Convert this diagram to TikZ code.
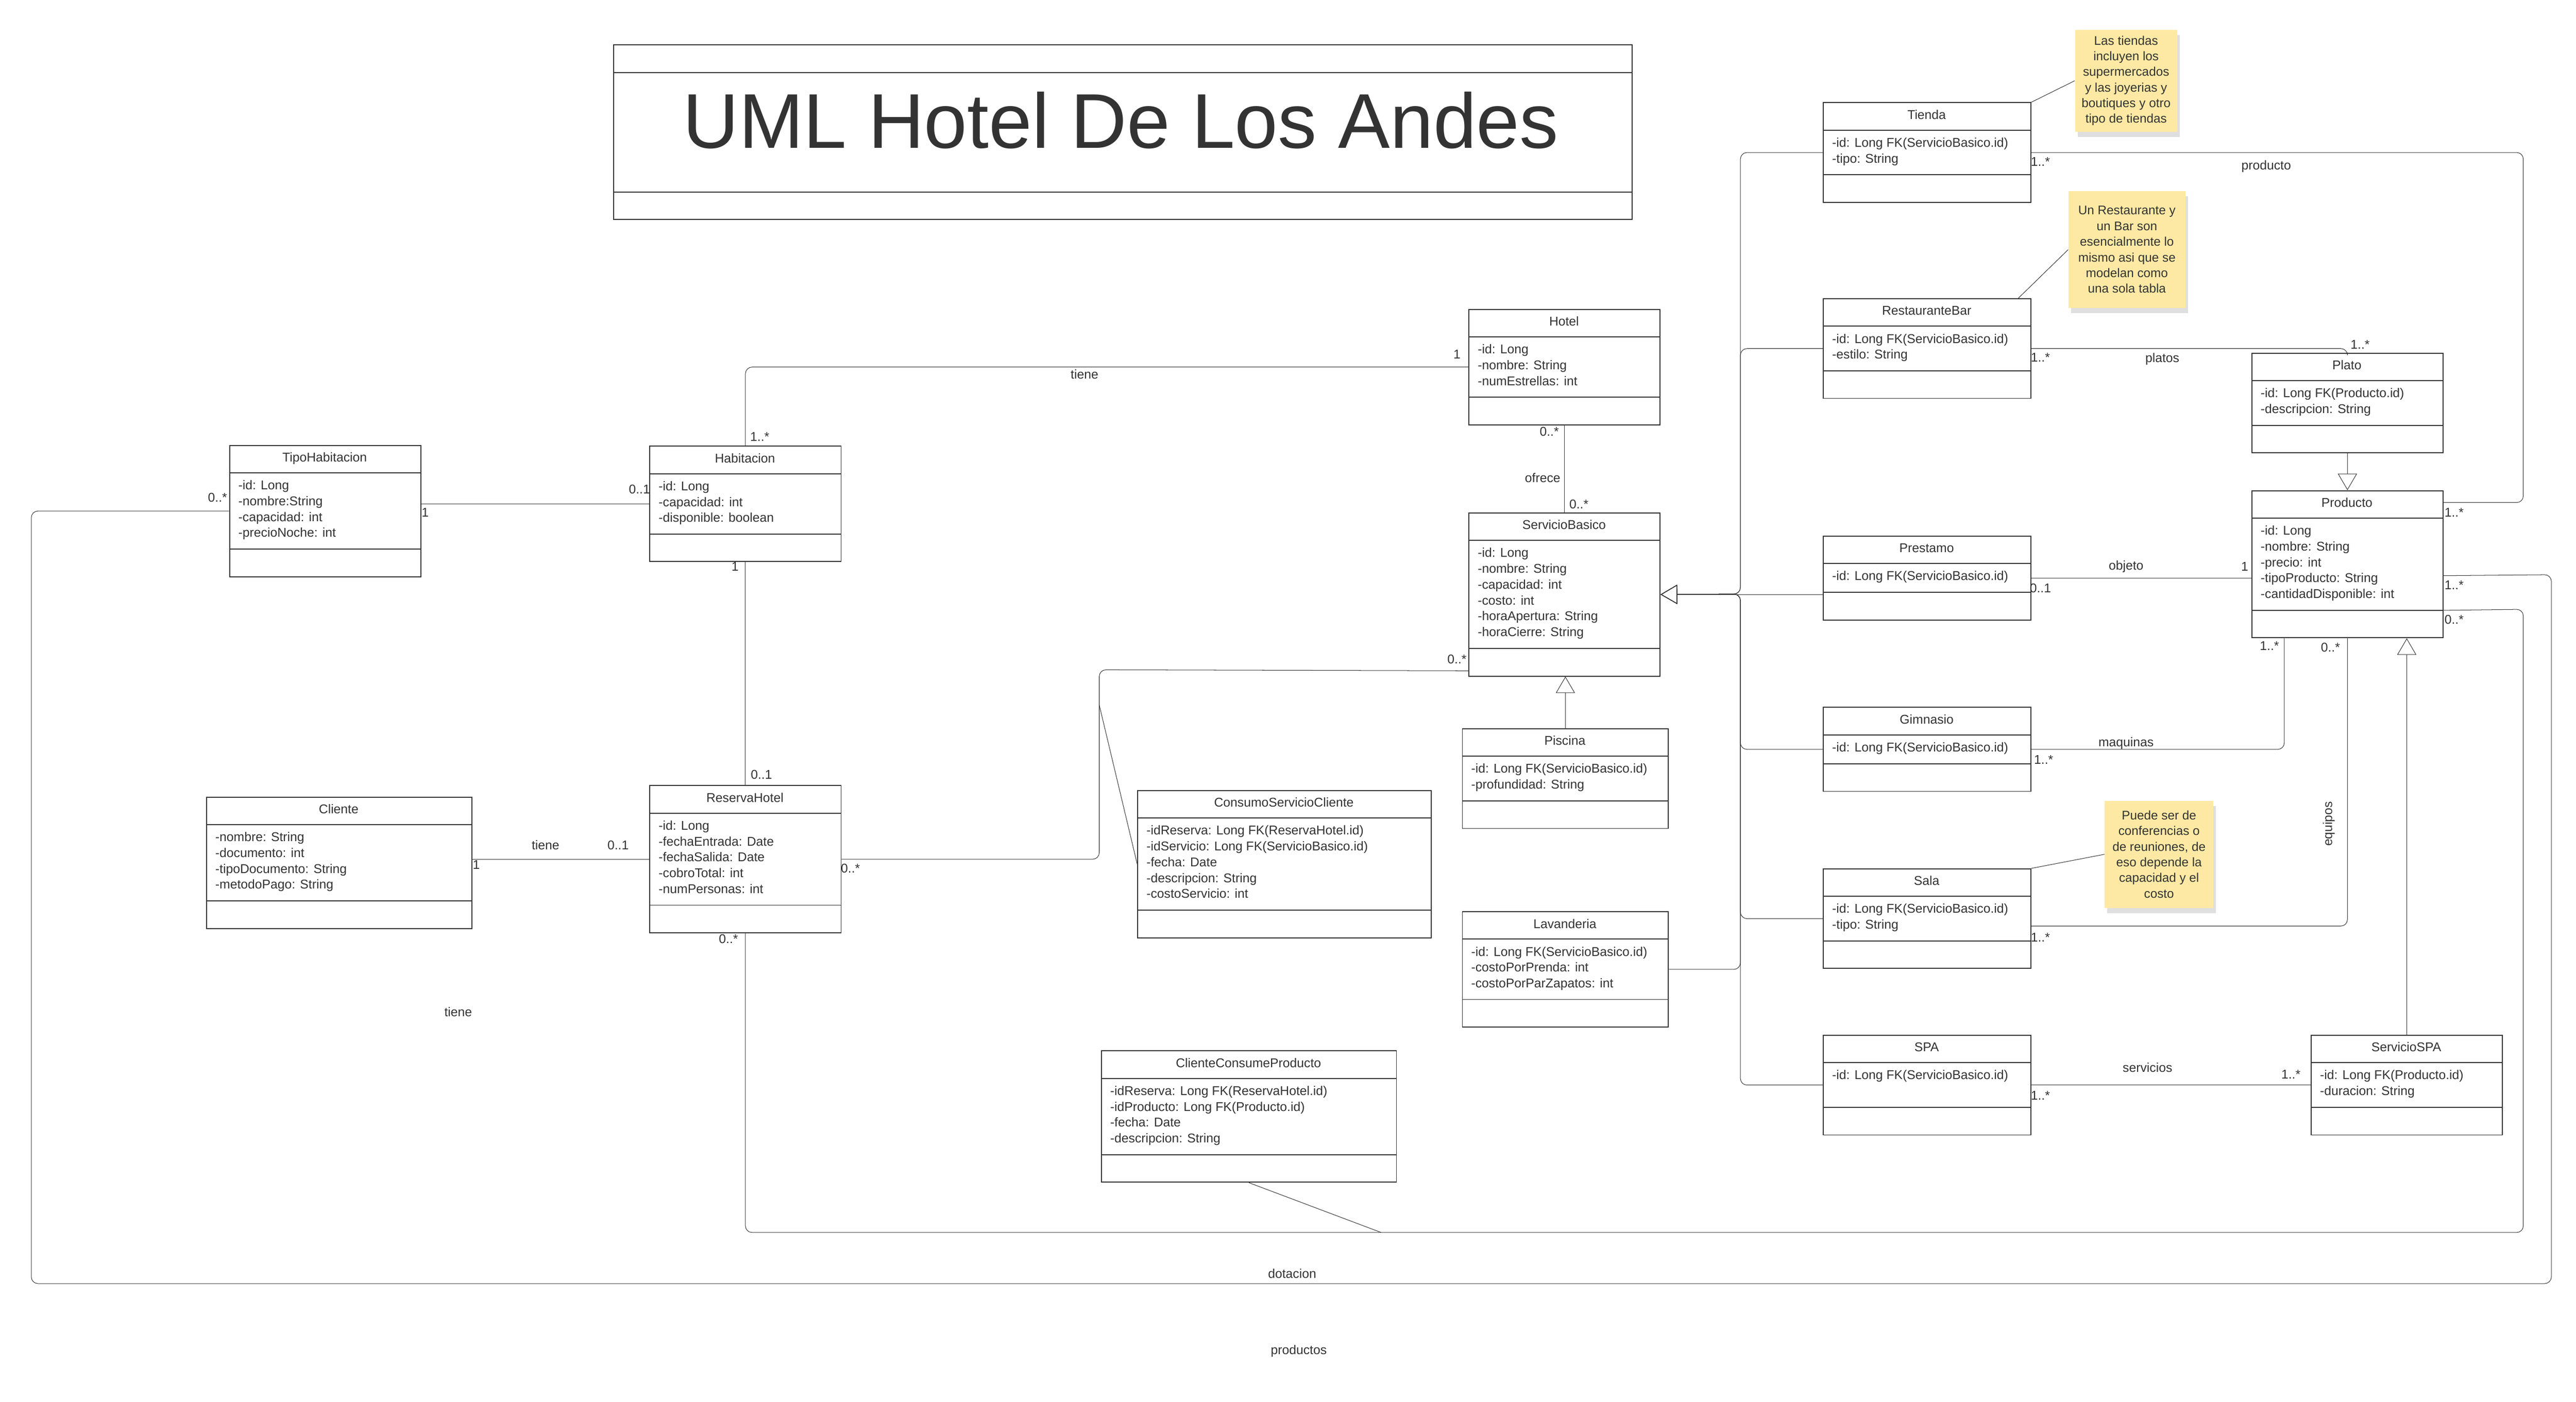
\documentclass[tikz,border=0pt]{standalone}
\usepackage{fontspec}
\setmainfont{Liberation Sans}
\usetikzlibrary{arrows.meta, shadows, calc}
\definecolor{mygray}{RGB}{51,51,51}
\definecolor{mynote}{RGB}{254,233,164}

\tikzset{
    classbox/.style={draw=mygray, line width=0.85pt, fill=white, inner sep=0pt, anchor=north west},
    boxline/.style={draw=mygray, line width=0.85pt},
    classname/.style={font=\fontsize{11}{13.6}\selectfont, text=mygray, anchor=base, inner sep=0pt},
    attr/.style={font=\fontsize{11}{13.6}\selectfont, text=mygray, anchor=base west, inner sep=0pt},
    lbl/.style={font=\fontsize{11}{13.6}\selectfont, text=mygray, inner sep=0pt},
    assoc/.style={draw=mygray, line width=0.45pt, rounded corners=0.2cm},
    gen/.style={assoc, -{Triangle[open, length=0.5cm, width=0.58cm]}},
    note/.style={fill=mynote, text=mygray, align=center, inner sep=0pt,
        font=\fontsize{10.8}{13.5}\selectfont,
        drop shadow={shadow xshift=0.08cm, shadow yshift=-0.16cm, opacity=0.25}},
}

% class box: name, x, y, width, height of attribute part, title, attributes
\newcommand{\umlclass}[7]{
    \node[classbox, minimum width=#4*0.05cm, minimum height=(34+#5)*0.05cm] (#1) at (#2,#3) {};
    \draw[boxline] (#1.north west) ++(0,17) -- ++(#4,0);
    \draw[boxline] (#1.south west) ++(0,-17) -- ++(#4,0);
    \node[classname] (#1-name) at (#2+#4/2,#3+10.3) {#6};
    \foreach \att [count=\k] in {#7}
        \node[attr] (#1-a\k) at (#2+5.5,#3+27.2+9.6*\k-9.6) {\att};
}

\begin{document}
\begin{tikzpicture}[x=0.05cm, y=-0.05cm]
    \useasboundingbox (0,0) rectangle (1563,850.7);

    % Title
    \node[classbox, minimum width=618*0.05cm, minimum height=106*0.05cm] (titleBox) at (372,27) {};
    \draw[boxline] (titleBox.north west) ++(0,17) -- ++(618,0);
    \draw[boxline] (titleBox.south west) ++(0,-17) -- ++(618,0);
    \node[lbl, font=\fontsize{67}{80}\selectfont] (titleText) at (680,73) {UML Hotel De Los Andes};

    % Classes
    \umlclass{TipoHabitacion}{139}{270}{116}{45.7}{TipoHabitacion}{-id: Long, -nombre:String, -capacidad: int, -precioNoche: int}
    \umlclass{Habitacion}{394}{270.5}{116}{36}{Habitacion}{-id: Long, -capacidad: int, -disponible: boolean}
    \umlclass{Cliente}{125}{483.5}{161}{45.7}{Cliente}{-nombre: String, -documento: int, -tipoDocumento: String, -metodoPago: String}
    \umlclass{ReservaHotel}{394}{476.5}{116}{55.3}{ReservaHotel}{-id: Long, -fechaEntrada: Date, -fechaSalida: Date, -cobroTotal: int, -numPersonas: int}
    \umlclass{Hotel}{891}{187.5}{116}{36}{Hotel}{-id: Long, -nombre: String, -numEstrellas: int}
    \umlclass{ServicioBasico}{891}{311}{116}{65}{ServicioBasico}{-id: Long, -nombre: String, -capacidad: int, -costo: int, -horaApertura: String, -horaCierre: String}
    \umlclass{Piscina}{887}{442}{125}{26.5}{Piscina}{-id: Long FK(ServicioBasico.id), -profundidad: String}
    \umlclass{Lavanderia}{887}{553}{125}{36}{Lavanderia}{-id: Long FK(ServicioBasico.id), -costoPorPrenda: int, -costoPorParZapatos: int}
    \umlclass{ConsumoServicioCliente}{690}{479.5}{178}{55.3}{ConsumoServicioCliente}{-idReserva: Long FK(ReservaHotel.id), -idServicio: Long FK(ServicioBasico.id), -fecha: Date, -descripcion: String, -costoServicio: int}
    \umlclass{ClienteConsumeProducto}{668}{637.5}{179}{45.7}{ClienteConsumeProducto}{-idReserva: Long FK(ReservaHotel.id), -idProducto: Long FK(Producto.id), -fecha: Date, -descripcion: String}
    \umlclass{Tienda}{1106}{62}{126}{26.5}{Tienda}{-id: Long FK(ServicioBasico.id), -tipo: String}
    \umlclass{RestauranteBar}{1106}{181}{126}{26.5}{RestauranteBar}{-id: Long FK(ServicioBasico.id), -estilo: String}
    \umlclass{Prestamo}{1106}{325}{126}{17}{Prestamo}{-id: Long FK(ServicioBasico.id)}
    \umlclass{Gimnasio}{1106}{429}{126}{17}{Gimnasio}{-id: Long FK(ServicioBasico.id)}
    \umlclass{Sala}{1106}{527}{126}{26.5}{Sala}{-id: Long FK(ServicioBasico.id), -tipo: String}
    \umlclass{SPA}{1106}{628}{126}{26.5}{SPA}{-id: Long FK(ServicioBasico.id)}
    \umlclass{Plato}{1366}{214}{116}{26.5}{Plato}{-id: Long FK(Producto.id), -descripcion: String}
    \umlclass{Producto}{1366}{297.5}{116}{55.3}{Producto}{-id: Long, -nombre: String, -precio: int, -tipoProducto: String, -cantidadDisponible: int}
    \umlclass{ServicioSPA}{1402}{628}{116}{26.5}{ServicioSPA}{-id: Long FK(Producto.id), -duracion: String}

    % Notes
    \node[note, minimum width=62*0.05cm, minimum height=62*0.05cm] (noteTienda) at (1290,49)
        {Las tiendas\\incluyen los\\supermercados\\y las joyerias y\\boutiques y otro\\tipo de tiendas};
    \node[note, minimum width=71*0.05cm, minimum height=71*0.05cm] (noteRestaurante) at (1290.5,151.5)
        {Un Restaurante y\\un Bar son\\esencialmente lo\\mismo asi que se\\modelan como\\una sola tabla};
    \node[note, minimum width=66*0.05cm, minimum height=65*0.05cm] (noteSala) at (1310,518.5)
        {Puede ser de\\conferencias o\\de reuniones, de\\eso depende la\\capacidad y el\\costo};
    \draw[assoc] (noteTienda.west) -- (Tienda.north east);
    \draw[assoc] (noteRestaurante.west) -- ($(RestauranteBar.north east)+(-8,0)$);
    \draw[assoc] (noteSala.west) -- (Sala.north east);

    % Associations
    \draw[assoc] (Habitacion.north) |- (Hotel.west);
    \draw[assoc] (Hotel.south) -- (ServicioBasico.north);
    \draw[assoc] (Habitacion.west) -- (Habitacion.west -| TipoHabitacion.east);
    \draw[assoc] (Habitacion.south) -- (ReservaHotel.north);
    \draw[assoc] (ReservaHotel.west) -- (ReservaHotel.west -| Cliente.east);
    \draw[assoc] (ReservaHotel.east) -| (667,406.5) -- ($(ServicioBasico.south west)+(0,-3.5)$);
    \coordinate (consumoLink) at (667,428);
    \draw[assoc] (consumoLink) -- (ConsumoServicioCliente.west);
    \draw[assoc] (ReservaHotel.south) |- (1531,748) -- (1531,369.8) -- ($(Producto.south east)+(0,-17)$);
    \coordinate (productoLink) at (838,748);
    \draw[assoc] (ClienteConsumeProducto.south) -- (productoLink);
    \draw[assoc] (TipoHabitacion.west) -| (19,779) -| (1548,348.8) -- ($(Producto.south east)+(0,-38)$);
    \draw[assoc] (Tienda.east) -| (1531,305) -- ($(Producto.north east)+(0,7.5)$);
    \draw[assoc] (RestauranteBar.east) -| (Plato.north);
    \draw[assoc] (Prestamo.east) -- (Prestamo.east -| Producto.west);
    \draw[assoc] (Gimnasio.east) -| ($(Producto.south west)+(20,0)$);
    \draw[assoc] (Producto.south) |- ($(Sala.east)+(0,4.5)$);
    \draw[assoc] (SPA.east) -- (ServicioSPA.west);

    % Generalizations
    \draw[gen] (Plato.south) -- (Producto.north);
    \draw[gen] (ServicioSPA.north) -- (ServicioSPA.north |- Producto.south);
    \draw[gen] (Piscina.north) -- (Piscina.north |- ServicioBasico.south);
    \foreach \sub in {Tienda, RestauranteBar, Gimnasio, Sala, SPA}
        \draw[gen] (\sub.west) -| (1056,360.5) -- (ServicioBasico.east);
    \draw[gen] (Lavanderia.east) -| (1056,360.5) -- (ServicioBasico.east);
    \draw[gen] (Prestamo.west |- ServicioBasico.east) -- (ServicioBasico.east);

    % Labels
    \node[lbl] (lTieneHab) at (658,227) {tiene};
    \node[lbl] (mHotHab) at (884,215) {1};
    \node[lbl] (mHabHot) at (461,265) {1..*};
    \node[lbl] (mHotSB) at (940,262) {0..*};
    \node[lbl] (lOfrece) at (936,290) {ofrece};
    \node[lbl] (mSBHot) at (958,306) {0..*};
    \node[lbl] (mTHHab) at (258,311) {1};
    \node[lbl] (mHabTH) at (388,297) {0..1};
    \node[lbl] (mHabRes) at (446,344) {1};
    \node[lbl] (mResHab) at (462,470) {0..1};
    \node[lbl] (lTieneCli) at (331,513) {tiene};
    \node[lbl] (mResCli) at (375,513) {0..1};
    \node[lbl] (mCliRes) at (289,525) {1};
    \node[lbl] (mResSB) at (516,527) {0..*};
    \node[lbl] (mSBRes) at (884,400) {0..*};
    \node[lbl] (mResPro) at (442,570) {0..*};
    \node[lbl] (mProRes) at (1489,376) {0..*};
    \node[lbl] (mTHPro) at (132,302) {0..*};
    \node[lbl] (mProTH) at (1489,355) {1..*};
    \node[lbl] (mTiePro) at (1238,98) {1..*};
    \node[lbl] (lProducto) at (1375,101) {producto};
    \node[lbl] (mProTie) at (1489,311) {1..*};
    \node[lbl] (mRBPla) at (1238,217) {1..*};
    \node[lbl] (lPlatos) at (1312,218) {platos};
    \node[lbl] (mPlaRB) at (1432,209) {1..*};
    \node[lbl] (lObjeto) at (1290,344) {objeto};
    \node[lbl] (mPrePro) at (1238,357) {0..1};
    \node[lbl] (mProPre) at (1362,344) {1};
    \node[lbl] (lMaquinas) at (1290,451) {maquinas};
    \node[lbl] (mGimPro) at (1240,461) {1..*};
    \node[lbl] (mProGim) at (1377,392) {1..*};
    \node[lbl] (mProSal) at (1414,393) {0..*};
    \node[lbl] (mSalPro) at (1238,569) {1..*};
    \node[lbl, rotate=90] (lEquipos) at (1413,500) {equipos};
    \node[lbl] (lServicios) at (1303,648) {servicios};
    \node[lbl] (mSPASS) at (1238,665) {1..*};
    \node[lbl] (mSSSPA) at (1390,652) {1..*};
    \node[lbl] (lTieneLib) at (278,614) {tiene};
    \node[lbl] (lDotacion) at (784,773) {dotacion};
    \node[lbl] (lProductos) at (788,820) {productos};
\end{tikzpicture}
\end{document}
